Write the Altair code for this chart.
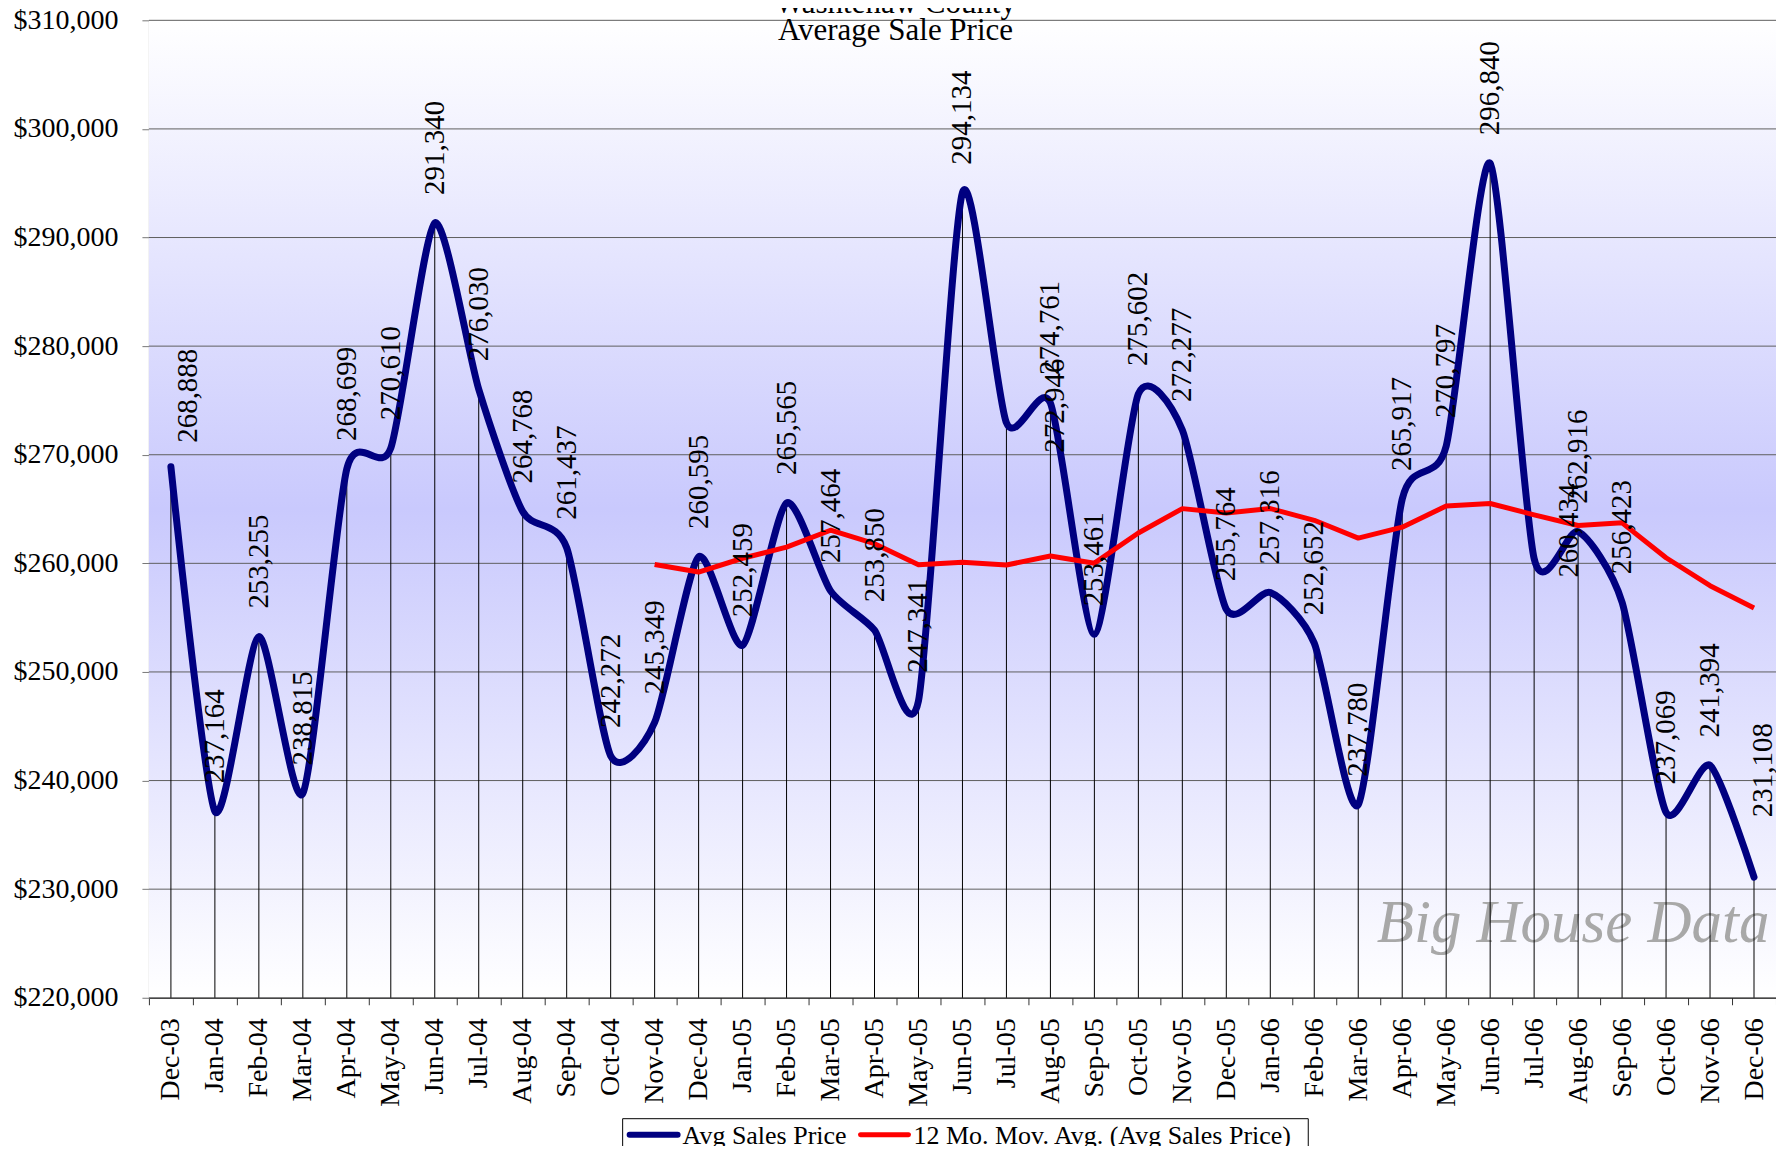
import altair as alt
import pandas as pd

months = ["Dec-03", "Jan-04", "Feb-04", "Mar-04", "Apr-04", "May-04", "Jun-04", "Jul-04",
          "Aug-04", "Sep-04", "Oct-04", "Nov-04", "Dec-04", "Jan-05", "Feb-05", "Mar-05",
          "Apr-05", "May-05", "Jun-05", "Jul-05", "Aug-05", "Sep-05", "Oct-05", "Nov-05",
          "Dec-05", "Jan-06", "Feb-06", "Mar-06", "Apr-06", "May-06", "Jun-06", "Jul-06",
          "Aug-06", "Sep-06", "Oct-06", "Nov-06", "Dec-06"]

avg_price = [268888, 237164, 253255, 238815, 268699, 270610, 291340, 276030,
             264768, 261437, 242272, 245349, 260595, 252459, 265565, 257464,
             253850, 247341, 294134, 272946, 274761, 253461, 275602, 272277,
             255764, 257316, 252652, 237780, 265917, 270797, 296840, 260434,
             262916, 256423, 237069, 241394, 231108]

# 12-month moving average, first value at Nov-04
ma_months = months[11:]
mov_avg = [259886, 259195, 260469, 261495, 263049, 261812, 259873, 260105,
           259848, 260681, 260016, 262794, 265038, 264635, 265040, 263964,
           262324, 263329, 265284, 265509, 264467, 263480, 263727, 260515,
           257942, 255887]

y_ticks = [220000, 230000, 240000, 250000, 260000, 270000, 280000, 290000, 300000, 310000]
series_names = ["Avg Sales Price", "12 Mo. Mov. Avg. (Avg Sales Price)"]
series_colors = ["#000080", "#FF0000"]
title_lines = ["Washtenaw County", "Average Sale Price"]
watermark = "Big House Data"

W, H = 1628, 978
FONT = "Liberation Serif"

price_df = pd.DataFrame({"month": months, "value": avg_price,
                         "idx": list(range(len(months))),
                         "series": series_names[0]})
ma_df = pd.DataFrame({"month": ma_months, "value": mov_avg, "series": series_names[1]})

yscale = alt.Scale(domain=[y_ticks[0], y_ticks[-1]], nice=False, zero=False)
xscale = alt.Scale(type="band", domain=months, paddingInner=0, paddingOuter=0)

x_axis = alt.Axis(labelAngle=270, labelFont=FONT, labelFontSize=28, labelColor="black",
                  labelPadding=13, tickSize=7, tickColor="#333333", tickBand="extent",
                  domainColor="black", domainWidth=1, grid=False, title=None)
y_axis = alt.Axis(values=y_ticks, format="$,.0f", labelFont=FONT, labelFontSize=28,
                  labelColor="black", labelPadding=24, tickSize=7, tickColor="#777777",
                  domainColor="#777777", grid=False, title=None)

x_enc = alt.X("month:N", scale=xscale, axis=x_axis, bandPosition=0.5, sort=months)
y_enc = alt.Y("value:Q", scale=yscale, axis=y_axis)

color_enc = alt.Color("series:N",
                      scale=alt.Scale(domain=series_names, range=series_colors),
                      legend=None)

one = pd.DataFrame({"a": [0]})

background = alt.Chart(one).mark_rect(
    fill=alt.LinearGradient(
        gradient="linear",
        stops=[alt.GradientStop(offset=0, color="#FFFFFF"),
               alt.GradientStop(offset=0.5, color="#C9C9FD"),
               alt.GradientStop(offset=1, color="#FFFFFF")],
        x1=0, x2=0, y1=0, y2=1),
    stroke=None
).encode(x=alt.value(0), x2=alt.value(W), y=alt.value(0), y2=alt.value(H))

wm = alt.Chart(one).mark_text(
    text=watermark, font=FONT, fontSize=61, fontStyle="italic", color="#A8A8A8",
    align="center", baseline="alphabetic"
).encode(x=alt.value(1425), y=alt.value(922))

grid = alt.Chart(pd.DataFrame({"value": y_ticks})).mark_rule(
    color="#5E5E5E", strokeWidth=1
).encode(y=y_enc)

drops = alt.Chart(price_df).mark_rule(color="black", strokeWidth=1).encode(
    x=x_enc, y=y_enc, y2=alt.datum(y_ticks[0]))

blue = alt.Chart(price_df).mark_line(
    strokeWidth=7, interpolate="cardinal", tension=0.3, strokeCap="round", strokeJoin="round"
).encode(x=x_enc, y=y_enc, color=color_enc)

red = alt.Chart(ma_df).mark_line(
    strokeWidth=5, strokeJoin="round"
).encode(x=x_enc, y=y_enc, color=color_enc)

def labels(filter_expr, x_off, y_off):
    return alt.Chart(price_df).transform_filter(filter_expr).mark_text(
        angle=270, align="left", baseline="middle", font=FONT, fontSize=29,
        color="black", xOffset=x_off, yOffset=y_off
    ).encode(x=x_enc, y=y_enc, text=alt.Text("value:Q", format=","))

lab_main = labels("datum.idx != 0 && datum.idx != 19 && datum.idx != 31 && datum.idx != 36", 0, -28)
lab_first = labels("datum.idx == 0", 17, -24)
lab_jul05 = labels("datum.idx == 19", 49, 30)
lab_jul06 = labels("datum.idx == 31", 35, 19)
lab_last = labels("datum.idx == 36", 9, -60)

title1 = alt.Chart(one).mark_text(
    text=title_lines[0], font=FONT, fontSize=31, color="black",
    align="center", baseline="alphabetic"
).encode(x=alt.value(747), y=alt.value(-7))
title2 = alt.Chart(one).mark_text(
    text=title_lines[1], font=FONT, fontSize=31, color="black",
    align="center", baseline="alphabetic"
).encode(x=alt.value(747), y=alt.value(20))

# manual legend (box, line swatches, labels)
leg_box = alt.Chart(one).mark_rect(fill="white", stroke="black", strokeWidth=1).encode(
    x=alt.value(474), x2=alt.value(1160), y=alt.value(1099), y2=alt.value(1145))
leg_blue = alt.Chart(one).mark_rule(color=series_colors[0], strokeWidth=6, strokeCap="round").encode(
    x=alt.value(481), x2=alt.value(529), y=alt.value(1115))
leg_red = alt.Chart(one).mark_rule(color=series_colors[1], strokeWidth=5, strokeCap="round").encode(
    x=alt.value(712), x2=alt.value(760), y=alt.value(1115))
leg_t1 = alt.Chart(one).mark_text(text=series_names[0], font=FONT, fontSize=26, color="black",
                                  align="left", baseline="middle").encode(
    x=alt.value(534), y=alt.value(1116))
leg_t2 = alt.Chart(one).mark_text(text=series_names[1], font=FONT, fontSize=26, color="black",
                                  align="left", baseline="middle").encode(
    x=alt.value(765), y=alt.value(1116))

chart = alt.layer(
    background, wm, grid, drops, blue, red,
    lab_main, lab_first, lab_jul05, lab_jul06, lab_last, title1, title2,
    leg_box, leg_blue, leg_red, leg_t1, leg_t2
).properties(
    width=W, height=H,
    padding={"left": 141, "top": 12, "right": 0, "bottom": 148},
    autosize=alt.AutoSizeParams(type="none"),
    background="white"
).configure_view(stroke=None)

chart.save("out.html", embed_options={"renderer": "svg", "actions": False})
